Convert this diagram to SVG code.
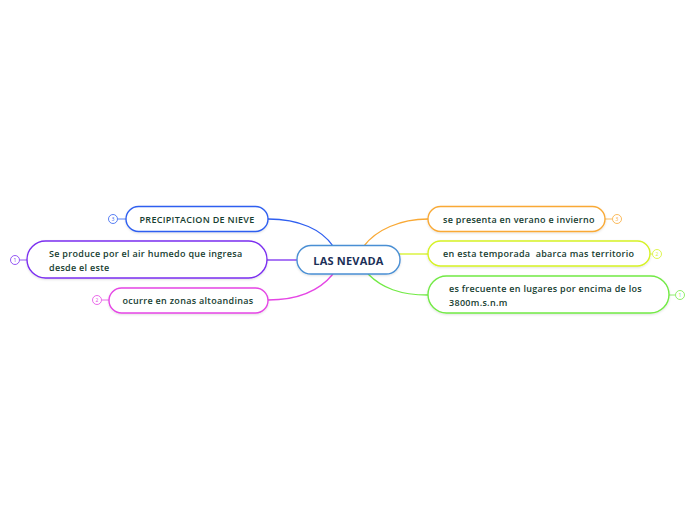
<svg xmlns="http://www.w3.org/2000/svg" width="696" height="520" viewBox="0 0 696 520">
<defs>
<filter id="sh" x="-10%" y="-30%" width="120%" height="160%">
<feDropShadow dx="0" dy="1" stdDeviation="1" flood-color="#000" flood-opacity="0.12"/>
</filter>
</defs>
<style>
.box{fill:#fff;stroke-width:1.4;filter:url(#sh)}
.t{font-family:"Open Sans","Noto Sans",sans-serif;font-size:9px;font-weight:600;fill:#163d30;letter-spacing:0.3px;white-space:pre}
.c{fill:none;stroke-width:1.3}
.m{fill:#fff;stroke-width:0.8}
.n{font-family:"Open Sans","Noto Sans",sans-serif;font-size:5px;text-anchor:middle}
</style>
<rect width="696" height="520" fill="#fff"/>
<g id="connectors">
<path class="c" stroke="#2f5ff0" d="M333,246 C322,230 300,219 268,219"/>
<path class="c" stroke="#7b2ff0" d="M298,260 L267,260"/>
<path class="c" stroke="#e546e5" d="M333,274 C320,290 300,300 268,300"/>
<path class="c" stroke="#f9a935" d="M364,246 C376,230 400,219 428,219"/>
<path class="c" stroke="#d6f225" d="M398,254 L428,254"/>
<path class="c" stroke="#72ea45" d="M368,274 C382,288 400,295 428,295"/>
</g>
<g id="center">
<rect class="box" x="297" y="245.5" width="103" height="28.5" rx="14" stroke="#4a8fd4"/>
<text x="348.5" y="265" text-anchor="middle" style="font-family:'Open Sans','Noto Sans',sans-serif;font-size:11px;font-weight:700;fill:#1b2f57;letter-spacing:0.2px">LAS NEVADA</text>
</g>
<g id="n-precipitacion">
<line x1="118" y1="219" x2="126" y2="219" stroke="#2f5ff0" stroke-width="0.8"/>
<circle class="m" cx="113" cy="219" r="4.5" stroke="#2f5ff0"/>
<text class="n" x="113" y="220.8" fill="#2f5ff0">3</text>
<rect class="box" x="126" y="206.5" width="142" height="25" rx="12.5" stroke="#2f5ff0"/>
<text class="t" x="197" y="222.5" text-anchor="middle">PRECIPITACION DE NIEVE</text>
</g>
<g id="n-seproduce">
<line x1="20" y1="260" x2="27" y2="260" stroke="#7b2ff0" stroke-width="0.8"/>
<circle class="m" cx="15" cy="260" r="4.5" stroke="#7b2ff0"/>
<text class="n" x="15" y="261.8" fill="#7b2ff0">1</text>
<rect class="box" x="27" y="241" width="240" height="37" rx="18.5" stroke="#7b2ff0"/>
<text class="t" x="49" y="256.5">Se produce por el air humedo que ingresa</text>
<text class="t" x="49" y="270.5">desde el este</text>
</g>
<g id="n-ocurre">
<line x1="102" y1="300" x2="109" y2="300" stroke="#e546e5" stroke-width="0.8"/>
<circle class="m" cx="97" cy="300" r="4.5" stroke="#e546e5"/>
<text class="n" x="97" y="301.8" fill="#e546e5">2</text>
<rect class="box" x="109" y="288" width="159" height="25" rx="12.5" stroke="#e546e5"/>
<text class="t" x="188" y="303.5" text-anchor="middle">ocurre en zonas altoandinas</text>
</g>
<g id="n-sepresenta">
<line x1="605" y1="219" x2="612" y2="219" stroke="#f9a935" stroke-width="0.8"/>
<circle class="m" cx="617" cy="219" r="4.5" stroke="#f9a935"/>
<text class="n" x="617" y="220.8" fill="#f9a935">3</text>
<rect class="box" x="428" y="206.5" width="177" height="25" rx="12.5" stroke="#f9a935"/>
<text class="t" x="443" y="222.5">se presenta en verano e invierno</text>
</g>
<g id="n-enesta">
<line x1="650" y1="254" x2="652" y2="254" stroke="#d6f225" stroke-width="0.8"/>
<circle class="m" cx="657" cy="254" r="4.5" stroke="#d6f225"/>
<text class="n" x="657" y="255.8" fill="#d6f225">2</text>
<rect class="box" x="428" y="241" width="222" height="25" rx="12.5" stroke="#d6f225"/>
<text class="t" x="443" y="257">en esta temporada  abarca mas territorio</text>
</g>
<g id="n-esfrecuente">
<line x1="669" y1="295" x2="675" y2="295" stroke="#72ea45" stroke-width="0.8"/>
<circle class="m" cx="680" cy="295" r="4.5" stroke="#72ea45"/>
<text class="n" x="680" y="296.8" fill="#72ea45">1</text>
<rect class="box" x="428" y="276" width="241" height="37" rx="18.5" stroke="#72ea45"/>
<text class="t" x="449" y="291.5">es frecuente en lugares por encima de los</text>
<text class="t" x="449" y="305.5">3800m.s.n.m</text>
</g>
</svg>
